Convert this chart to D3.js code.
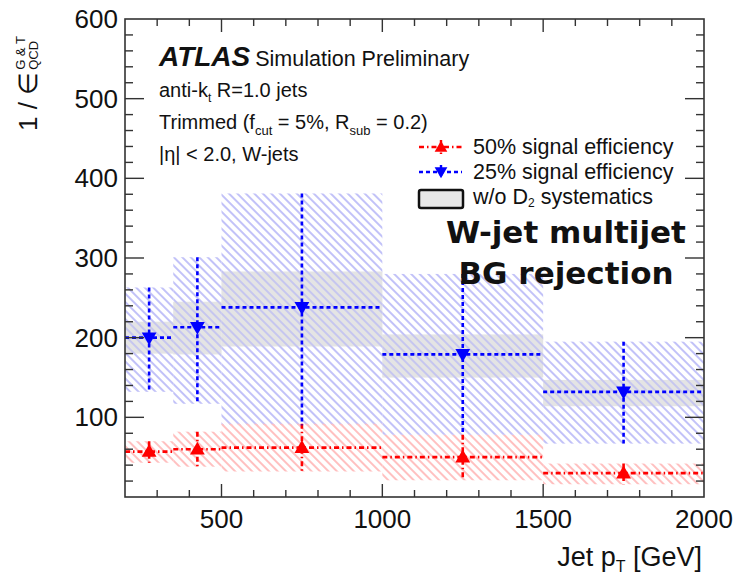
<!DOCTYPE html>
<html><head><meta charset="utf-8">
<script src="https://cdn.jsdelivr.net/npm/d3@7"></script>
<style>body{margin:0;background:#fff}svg{display:block}text{font-family:"Liberation Sans",Arial,sans-serif;fill:#111}</style>
</head><body><svg id="c" width="735" height="579"></svg>
<script>
// ---- data ----
const binEdges = [200, 350, 500, 1000, 1500, 2000];
const ptCenters = [275, 425, 750, 1250, 1750];
// 25% signal efficiency (blue)
const rej25 = [200, 213, 238, 179, 132];
const rej25Up = [263, 301, 381, 280, 195];
const rej25Dn = [132, 117, 90, 78, 67];
const rej25NoD2Up = [220, 245, 283, 204, 147];
const rej25NoD2Dn = [180, 179, 189, 150, 114];
// 50% signal efficiency (red)
const rej50 = [57, 60, 62, 50, 30];
const rej50Up = [70, 82, 92, 78, 42];
const rej50Dn = [43, 38, 32, 21, 16];
const xTickLabels = [500, 1000, 1500, 2000];
const yTickLabels = [100, 200, 300, 400, 500, 600];

const svg = d3.select("#c");
const L = 125, R = 704, T = 19, B = 497;
const x = d3.scaleLinear().domain([200, 2000]).range([L, R]);
const y = d3.scaleLinear().domain([0, 600]).range([B, T]);

const defs = svg.append("defs");
function hatch(id, color, w) {
  const p = defs.append("pattern").attr("id", id).attr("patternUnits", "userSpaceOnUse")
    .attr("width", 6).attr("height", 6).attr("patternTransform", "rotate(-45)");
  p.append("line").attr("x1", 1).attr("y1", 0).attr("x2", 1).attr("y2", 6)
    .attr("stroke", color).attr("stroke-width", w);
}
hatch("hb", "#c2c2f8", 2);
hatch("hr", "#ffc0c0", 2);

const bins = d3.range(ptCenters.length);
const plot = svg.append("g");
const bx = i => x(binEdges[i]), bw = i => x(binEdges[i + 1]) - x(binEdges[i]);

// grey bands (w/o D2 systematics) - base
plot.selectAll(".g").data(bins).join("rect")
  .attr("x", bx).attr("width", bw)
  .attr("y", i => y(rej25NoD2Up[i])).attr("height", i => y(rej25NoD2Dn[i]) - y(rej25NoD2Up[i]))
  .attr("fill", "#eaeaea");
// blue hatch
plot.selectAll(".b").data(bins).join("rect")
  .attr("x", bx).attr("width", bw)
  .attr("y", i => y(rej25Up[i])).attr("height", i => y(rej25Dn[i]) - y(rej25Up[i]))
  .attr("fill", "url(#hb)");
// red hatch
plot.selectAll(".r").data(bins).join("rect")
  .attr("x", bx).attr("width", bw)
  .attr("y", i => y(rej50Up[i])).attr("height", i => y(rej50Dn[i]) - y(rej50Up[i]))
  .attr("fill", "url(#hr)");
// grey band overlay
plot.selectAll(".gh").data(bins).join("rect")
  .attr("x", bx).attr("width", bw)
  .attr("y", i => y(rej25NoD2Up[i])).attr("height", i => y(rej25NoD2Dn[i]) - y(rej25NoD2Up[i]))
  .attr("fill", "rgba(210,210,210,0.25)");

function series(vals, up, dn, color, dash, rot) {
  const g = plot.append("g");
  g.selectAll(".h").data(bins).join("line")
    .attr("x1", bx).attr("x2", i => x(binEdges[i + 1]))
    .attr("y1", i => y(vals[i])).attr("y2", i => y(vals[i]))
    .attr("stroke", color).attr("stroke-width", 2.6).attr("stroke-dasharray", dash);
  g.selectAll(".v").data(bins).join("line")
    .attr("x1", i => x(ptCenters[i])).attr("x2", i => x(ptCenters[i]))
    .attr("y1", i => y(up[i])).attr("y2", i => y(dn[i]))
    .attr("stroke", color).attr("stroke-width", 2.6).attr("stroke-dasharray", dash);
  g.selectAll(".m").data(bins).join("path")
    .attr("d", d3.symbol().type(d3.symbolTriangle).size(95))
    .attr("transform", i => `translate(${x(ptCenters[i])},${y(vals[i]) + (rot ? -1 : 1)}) rotate(${rot})`)
    .attr("fill", color);
}
series(rej50, rej50Up, rej50Dn, "#ff0000", "5,3,1.5,3", 0);
series(rej25, rej25Up, rej25Dn, "#0000ff", "4,3", 180);

// frame + ticks
const ax = svg.append("g").attr("stroke", "#333");
ax.append("rect").attr("x", L).attr("y", T).attr("width", R - L).attr("height", B - T)
  .attr("fill", "none").attr("stroke-width", 1.6);
const yMinor = d3.range(20, 600, 20);
ax.selectAll(".yt").data(yMinor).join("line")
  .attr("x1", L).attr("x2", d => L + (d % 100 === 0 ? 19 : 8))
  .attr("y1", d => y(d)).attr("y2", d => y(d)).attr("stroke-width", 1.4);
ax.selectAll(".yt2").data(yMinor).join("line")
  .attr("x1", R).attr("x2", d => R - (d % 100 === 0 ? 19 : 8))
  .attr("y1", d => y(d)).attr("y2", d => y(d)).attr("stroke-width", 1.4);
const xMinor = d3.range(300, 2000, 100);
ax.selectAll(".xt").data(xMinor).join("line")
  .attr("x1", d => x(d)).attr("x2", d => x(d))
  .attr("y1", B).attr("y2", d => B - (d % 500 === 0 ? 13 : 7)).attr("stroke-width", 1.4);
ax.selectAll(".xt2").data(xMinor).join("line")
  .attr("x1", d => x(d)).attr("x2", d => x(d))
  .attr("y1", T).attr("y2", d => T + (d % 500 === 0 ? 13 : 7)).attr("stroke-width", 1.4);

svg.selectAll(".yl").data(yTickLabels).join("text")
  .attr("x", 118).attr("y", d => y(d) + 9).attr("text-anchor", "end")
  .attr("font-size", 26).text(d => d);
svg.selectAll(".xl").data(xTickLabels).join("text")
  .attr("x", d => x(d)).attr("y", 528).attr("text-anchor", "middle")
  .attr("font-size", 26).text(d => d);

// axis titles
const xt = svg.append("text").attr("x", 702).attr("y", 566).attr("text-anchor", "end").attr("font-size", 27);
xt.append("tspan").text("Jet p");
xt.append("tspan").attr("font-size", 16).attr("dy", 6).text("T");
xt.append("tspan").attr("dy", -6).text(" [GeV]");

const yg = svg.append("g").attr("transform", "translate(37,131) rotate(-90)");
const ymain = yg.append("text").attr("x", 0).attr("y", 0).attr("font-size", 26).text("1 / ∈");
const yl = ymain.node().getComputedTextLength();
yg.append("text").attr("x", yl + 2).attr("y", -12).attr("font-size", 13).text("G & T");
yg.append("text").attr("x", yl + 2).attr("y", 1).attr("font-size", 13).text("QCD");

// ATLAS label
const at = svg.append("text").attr("x", 159).attr("y", 66).attr("font-size", 28);
at.append("tspan").attr("font-weight", "bold").attr("font-style", "italic").text("ATLAS");
at.append("tspan").attr("dx", 5).attr("font-size", 21.5).text("Simulation Preliminary");

const t1 = svg.append("text").attr("x", 159).attr("y", 97).attr("font-size", 20);
t1.append("tspan").text("anti-k");
t1.append("tspan").attr("font-size", 12).attr("dy", 5).text("t");
t1.append("tspan").attr("dy", -5).text(" R=1.0 jets");
const t2 = svg.append("text").attr("x", 159).attr("y", 129).attr("font-size", 20);
t2.append("tspan").text("Trimmed (f");
t2.append("tspan").attr("font-size", 13).attr("dy", 6).text("cut");
t2.append("tspan").attr("dy", -6).text(" = 5%, R");
t2.append("tspan").attr("font-size", 13).attr("dy", 6).text("sub");
t2.append("tspan").attr("dy", -6).text(" = 0.2)");
svg.append("text").attr("x", 159).attr("y", 161).attr("font-size", 20).text("|η| < 2.0, W-jets");

// legend
const lg = svg.append("g");
const legItems = [
  {label: "50% signal efficiency", color: "#ff0000", dash: "5,3,1.5,3", rot: 0, yy: 147},
  {label: "25% signal efficiency", color: "#0000ff", dash: "4,3", rot: 180, yy: 172}
];
legItems.forEach(d => {
  lg.append("line").attr("x1", 419).attr("x2", 462).attr("y1", d.yy).attr("y2", d.yy)
    .attr("stroke", d.color).attr("stroke-width", 2.4).attr("stroke-dasharray", d.dash);
  lg.append("line").attr("x1", 441).attr("x2", 441).attr("y1", d.yy - 7).attr("y2", d.yy + 7)
    .attr("stroke", d.color).attr("stroke-width", 2.4).attr("stroke-dasharray", d.dash);
  lg.append("path").attr("d", d3.symbol().type(d3.symbolTriangle).size(70)())
    .attr("transform", `translate(441,${d.yy + (d.rot ? -1 : 1)}) rotate(${d.rot})`).attr("fill", d.color);
  lg.append("text").attr("x", 473).attr("y", d.yy + 7).attr("font-size", 21.5).text(d.label);
});
lg.append("rect").attr("x", 419).attr("y", 190).attr("width", 44).attr("height", 18).attr("rx", 2)
  .attr("fill", "#e8e8e8").attr("stroke", "#111").attr("stroke-width", 2.5);
const lt = lg.append("text").attr("x", 473).attr("y", 204).attr("font-size", 21.5);
lt.append("tspan").text("w/o D");
lt.append("tspan").attr("font-size", 12).attr("dy", 3).text("2");
lt.append("tspan").attr("dy", -3).text(" systematics");

// overlay title
svg.append("text").attr("x", 566).attr("y", 243).attr("text-anchor", "middle")
  .style("font-family", "'DejaVu Sans',sans-serif").attr("font-weight", "bold").attr("font-size", 31)
  .text("W-jet multijet");
svg.append("text").attr("x", 566).attr("y", 284).attr("text-anchor", "middle")
  .style("font-family", "'DejaVu Sans',sans-serif").attr("font-weight", "bold").attr("font-size", 31)
  .text("BG rejection");
</script></body></html>
